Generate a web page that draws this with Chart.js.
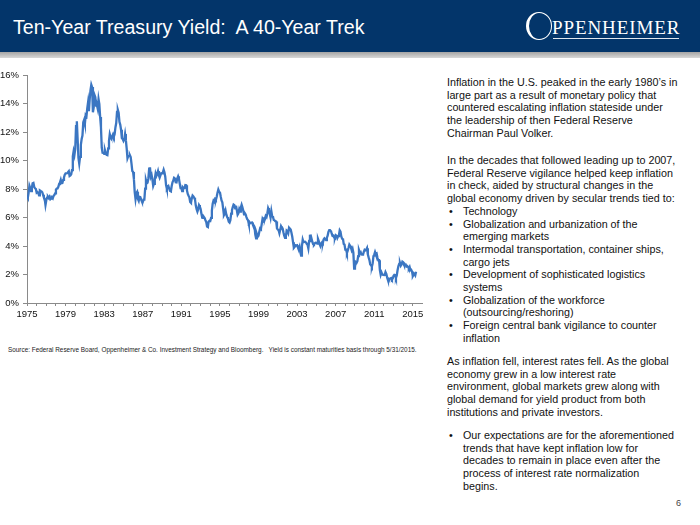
<!DOCTYPE html>
<html>
<head>
<meta charset="utf-8">
<script src="https://cdn.jsdelivr.net/npm/chart.js@4.4.1/dist/chart.umd.min.js"></script>
<style>
  body { margin: 0; width: 700px; height: 525px; overflow: hidden; background: #fff;
         font-family: "Liberation Sans", Arial, sans-serif; position: relative; }
  .header { position: absolute; left: 0; top: 0; width: 700px; height: 52px; background: #03356a; }
  .stripe { position: absolute; left: 0; top: 52px; width: 700px; height: 6px;
            background: linear-gradient(#a4a4a4, #d8d8d8); }
  .title { position: absolute; left: 13px; top: 15px; color: #fff; font-size: 19.6px; line-height: 24px; }
  .logo-o { position: absolute; left: 526px; top: 12px; width: 22px; height: 26px;
            border: 1.5px solid #fff; border-left-width: 3px; border-radius: 50%; }
  .logo-txt { position: absolute; left: 552px; top: 17px; color: #fff; font-family: "Liberation Serif", serif;
              font-size: 19px; letter-spacing: 0.9px; line-height: 22px; }
  .logo-line { position: absolute; left: 553px; top: 38px; width: 126px; height: 1px; background: #dfe6ee; }
  #wrap { position: absolute; left: 0; top: 60px; width: 430px; height: 265px; }
  .note { position: absolute; left: 8px; top: 346px; font-size: 6.4px; color: #222; white-space: nowrap; }
  .txt { position: absolute; left: 447px; font-size: 10.75px; line-height: 12.7px; color: #111; white-space: nowrap; }
  .txt ul { margin: 0; padding: 0; list-style: none; }
  .txt li { position: relative; padding-left: 16px; }
  .txt li::before { content: "\2022"; position: absolute; left: 2px; }
  .page { position: absolute; left: 676px; top: 498px; font-size: 9px; color: #444; }
</style>
</head>
<body>
<div class="header"></div>
<div class="stripe"></div>
<div class="title">Ten-Year Treasury Yield:&nbsp; A 40-Year Trek</div>
<div class="logo-o"></div>
<div class="logo-txt">PPENHEIMER</div>
<div class="logo-line"></div>

<div id="wrap"><canvas id="yield" width="430" height="265"></canvas></div>

<div class="note">Source: Federal Reserve Board, Oppenheimer &amp; Co. Investment Strategy and Bloomberg.&nbsp;&nbsp; Yield is constant maturities basis through 5/31/2015.</div>

<div class="txt" style="top:76px">Inflation in the U.S. peaked in the early 1980’s in<br>large part as a result of monetary policy that<br>countered escalating inflation stateside under<br>the leadership of then Federal Reserve<br>Chairman Paul Volker.</div>

<div class="txt" style="top:154px">In the decades that followed leading up to 2007,<br>Federal Reserve vigilance helped keep inflation<br>in check, aided by structural changes in the<br>global economy driven by secular trends tied to:
<ul>
<li>Technology</li>
<li>Globalization and urbanization of the<br>emerging markets</li>
<li>Intermodal transportation, container ships,<br>cargo jets</li>
<li>Development of sophisticated logistics<br>systems</li>
<li>Globalization of the workforce<br>(outsourcing/reshoring)</li>
<li>Foreign central bank vigilance to counter<br>inflation</li>
</ul></div>

<div class="txt" style="top:355px">As inflation fell, interest rates fell. As the global<br>economy grew in a low interest rate<br>environment, global markets grew along with<br>global demand for yield product from both<br>institutions and private investors.</div>

<div class="txt" style="top:429px"><ul><li>Our expectations are for the aforementioned<br>trends that have kept inflation low for<br>decades to remain in place even after the<br>process of interest rate normalization<br>begins.</li></ul></div>

<div class="page">6</div>

<script>
// monthly 10-year treasury yield, %, Jan 1975 - May 2015
const startYear = 1975;

const yields1975to1984 = [
  7.50, 7.39, 7.73, 8.23, 8.06, 7.86, 8.06, 8.40, 8.43, 8.14, 8.05, 8.00,
  7.74, 7.79, 7.73, 7.56, 7.90, 7.86, 7.83, 7.77, 7.59, 7.41, 7.29, 6.87,
  7.21, 7.39, 7.46, 7.37, 7.46, 7.28, 7.33, 7.40, 7.34, 7.52, 7.58, 7.69,
  7.96, 8.03, 8.04, 8.15, 8.35, 8.46, 8.64, 8.41, 8.42, 8.64, 8.81, 9.01,
  9.10, 9.10, 9.12, 9.18, 9.25, 8.91, 8.95, 9.03, 9.33, 10.30, 10.65, 10.39,
  10.80, 12.41, 12.75, 11.47, 10.18, 9.78, 10.25, 11.10, 11.51, 11.75, 12.68, 12.84,
  12.57, 13.19, 13.12, 13.68, 14.10, 13.47, 14.28, 14.94, 15.32, 15.15, 13.39, 13.72,
  14.59, 14.43, 13.86, 13.87, 13.62, 14.30, 13.95, 13.06, 12.34, 10.91, 10.55, 10.54,
  10.46, 10.72, 10.51, 10.40, 10.38, 10.85, 11.38, 11.85, 11.65, 11.54, 11.69, 11.83,
  11.67, 11.84, 12.32, 12.63, 13.41, 13.56, 13.36, 12.72, 12.52, 12.16, 11.57, 11.50
];

const yields1985to1994 = [
  11.38, 11.51, 11.86, 11.43, 10.85, 10.16, 10.31, 10.33, 10.37, 10.24, 9.78, 9.26,
  9.19, 8.70, 7.78, 7.30, 7.71, 7.80, 7.30, 7.17, 7.45, 7.43, 7.25, 7.11,
  7.08, 7.25, 7.25, 8.02, 8.61, 8.40, 8.45, 8.76, 9.42, 9.52, 8.86, 8.99,
  8.67, 8.21, 8.37, 8.72, 9.09, 8.92, 9.06, 9.26, 8.98, 8.80, 8.96, 9.11,
  9.09, 9.17, 9.36, 9.18, 8.86, 8.28, 8.02, 8.11, 8.19, 8.01, 7.87, 7.84,
  8.21, 8.47, 8.59, 8.79, 8.76, 8.48, 8.47, 8.75, 8.89, 8.72, 8.39, 8.08,
  8.09, 7.85, 8.11, 8.04, 8.07, 8.28, 8.27, 7.90, 7.65, 7.53, 7.42, 7.09,
  7.03, 7.34, 7.54, 7.48, 7.39, 7.26, 6.84, 6.59, 6.42, 6.59, 6.87, 6.77,
  6.60, 6.26, 5.98, 5.97, 6.04, 5.96, 5.81, 5.68, 5.36, 5.33, 5.72, 5.77,
  5.75, 5.97, 6.48, 6.97, 7.18, 7.10, 7.30, 7.24, 7.46, 7.74, 7.96, 7.81
];

const yields1995to2004 = [
  7.78, 7.47, 7.20, 7.06, 6.63, 6.17, 6.28, 6.49, 6.20, 6.04, 5.93, 5.71,
  5.65, 5.81, 6.27, 6.51, 6.74, 6.91, 6.87, 6.64, 6.83, 6.53, 6.20, 6.30,
  6.58, 6.42, 6.69, 6.89, 6.71, 6.49, 6.22, 6.30, 6.21, 6.03, 5.88, 5.81,
  5.54, 5.57, 5.65, 5.64, 5.65, 5.50, 5.46, 5.34, 4.81, 4.53, 4.83, 4.65,
  4.72, 5.00, 5.23, 5.18, 5.54, 5.90, 5.79, 5.94, 5.92, 6.11, 6.03, 6.28,
  6.66, 6.52, 6.26, 5.99, 6.44, 6.10, 6.05, 5.83, 5.80, 5.74, 5.72, 5.24,
  5.16, 5.10, 4.89, 5.14, 5.39, 5.28, 5.24, 4.97, 4.73, 4.57, 4.65, 5.09,
  5.04, 4.91, 5.28, 5.21, 5.16, 4.93, 4.65, 4.26, 3.87, 3.94, 4.05, 4.03,
  4.05, 3.90, 3.81, 3.96, 3.57, 3.33, 3.98, 4.45, 4.27, 4.29, 4.30, 4.27,
  4.15, 4.08, 3.83, 4.35, 4.72, 4.73, 4.50, 4.28, 4.13, 4.10, 4.19, 4.23
];

const yields2005to2015 = [
  4.22, 4.17, 4.50, 4.34, 4.14, 4.00, 4.18, 4.26, 4.20, 4.46, 4.54, 4.47,
  4.42, 4.57, 4.72, 4.99, 5.11, 5.11, 5.09, 4.88, 4.72, 4.73, 4.60, 4.56,
  4.76, 4.72, 4.56, 4.69, 4.75, 5.10, 5.00, 4.67, 4.52, 4.53, 4.15, 4.10,
  3.74, 3.74, 3.51, 3.68, 3.88, 4.10, 4.01, 3.89, 3.69, 3.81, 3.53, 2.42,
  2.52, 2.87, 2.82, 2.93, 3.29, 3.72, 3.56, 3.59, 3.40, 3.39, 3.40, 3.59,
  3.73, 3.69, 3.73, 3.85, 3.42, 3.20, 3.01, 2.70, 2.65, 2.54, 2.76, 3.29,
  3.39, 3.58, 3.41, 3.46, 3.17, 3.00, 3.00, 2.30, 1.98, 2.15, 2.01, 1.98,
  1.97, 1.97, 2.17, 2.05, 1.80, 1.62, 1.53, 1.68, 1.72, 1.75, 1.65, 1.72,
  1.91, 1.98, 1.96, 1.76, 1.93, 2.30, 2.58, 2.74, 2.81, 2.62, 2.72, 2.90,
  2.86, 2.71, 2.72, 2.71, 2.56, 2.60, 2.54, 2.42, 2.53, 2.30, 2.33, 2.21,
  1.88, 1.98, 2.04, 1.94, 2.20
];

const yearTicks = [];
for (let y = 1975; y <= 2015; y++) yearTicks.push(y);
const labelYears = [1975, 1979, 1983, 1987, 1991, 1995, 1999, 2003, 2007, 2011, 2015];
const pctTicks = [0, 2, 4, 6, 8, 10, 12, 14, 16];

const allYields = yields1975to1984.concat(yields1985to1994, yields1995to2004, yields2005to2015);
const points = allYields.map((v, i) => ({ x: startYear + i / 12, y: v }));

const axisGray = "#8a8a8a";
const tickFont = { family: "Liberation Sans", size: 9.5 };

new Chart("yield", {
  type: "line",
  data: {
    datasets: [
      {
        label: "10-Year Treasury Yield",
        data: points,
        borderColor: "#3b76c2",
        borderWidth: 2.3,
        pointRadius: 0,
        tension: 0,
        fill: false,
      },
    ],
  },
  options: {
    responsive: false,
    animation: false,
    layout: { padding: { top: 15, right: 8, left: 0, bottom: 0 } },
    plugins: { legend: { display: false }, tooltip: { enabled: false } },
    scales: {
      x: {
        type: "linear",
        min: 1975,
        max: 2015.95,
        afterBuildTicks: (axis) => { axis.ticks = yearTicks.map((v) => ({ value: v })); },
        afterFit: (axis) => { axis.height = 22; },
        border: { color: axisGray },
        grid: { drawOnChartArea: false, tickLength: 3, color: axisGray },
        ticks: {
          autoSkip: false,
          maxRotation: 0,
          padding: 3,
          color: "#111",
          font: tickFont,
          callback: (v) => (labelYears.includes(v) ? String(v) : ""),
        },
      },
      y: {
        min: 0,
        max: 16,
        afterBuildTicks: (axis) => { axis.ticks = pctTicks.map((v) => ({ value: v })); },
        afterFit: (axis) => { axis.width = 27; },
        border: { color: axisGray },
        grid: { drawOnChartArea: false, tickLength: 4, color: axisGray },
        ticks: {
          padding: 4,
          color: "#111",
          font: tickFont,
          callback: (v) => v + "%",
        },
      },
    },
  },
});
</script>
</body>
</html>
